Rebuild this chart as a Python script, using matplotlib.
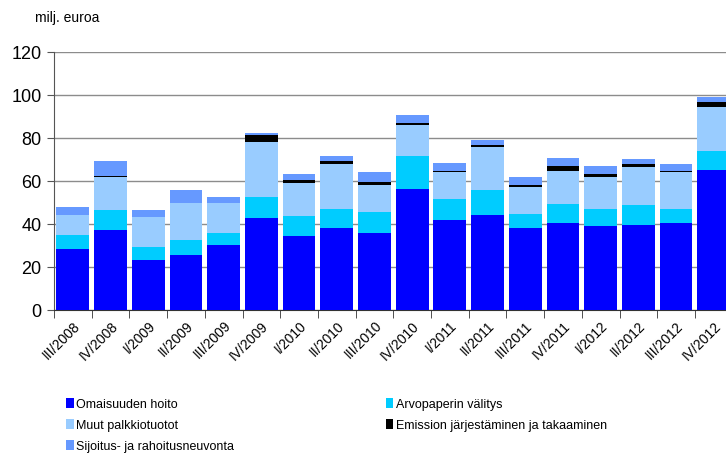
import matplotlib
matplotlib.use("Agg")
import matplotlib.pyplot as plt
import numpy as np

plt.rcParams['font.family'] = ['Liberation Sans', 'DejaVu Sans']

quarters = ["III/2008", "IV/2008", "I/2009", "II/2009", "III/2009", "IV/2009",
            "I/2010", "II/2010", "III/2010", "IV/2010", "I/2011", "II/2011",
            "III/2011", "IV/2011", "I/2012", "II/2012", "III/2012", "IV/2012"]

omaisuuden_hoito = [28.2, 37.1, 23.2, 25.3, 29.8, 42.4, 34.2, 37.9, 35.6,
                    55.9, 41.8, 43.9, 37.9, 40.1, 38.7, 39.3, 40.1, 64.7]
arvopaperin_valitys = [6.6, 9.0, 5.8, 6.8, 5.8, 10.1, 9.5, 8.8, 9.7,
                       15.4, 9.5, 11.7, 6.6, 9.0, 8.1, 9.1, 6.7, 8.8]
muut_palkkiotuotot = [9.0, 15.4, 14.0, 17.6, 14.1, 25.4, 15.0, 20.8, 12.6,
                      14.6, 12.5, 20.0, 12.6, 15.4, 14.8, 17.7, 17.0, 20.5]
emissio = [0.0, 0.8, 0.0, 0.0, 0.0, 3.1, 1.4, 1.5, 1.5,
           0.9, 0.7, 0.8, 0.7, 2.3, 1.5, 1.5, 0.7, 2.4]
sijoitus = [3.7, 6.7, 3.1, 5.9, 2.8, 1.2, 2.9, 2.3, 4.4,
            3.7, 3.7, 2.6, 3.8, 3.7, 3.7, 2.2, 3.0, 2.3]

series = [
    ("Omaisuuden hoito", omaisuuden_hoito, "#0000FF"),
    ("Arvopaperin välitys", arvopaperin_valitys, "#00CCFF"),
    ("Muut palkkiotuotot", muut_palkkiotuotot, "#99CCFF"),
    ("Emission järjestäminen ja takaaminen", emissio, "#000000"),
    ("Sijoitus- ja rahoitusneuvonta", sijoitus, "#6699FF"),
]

fig = plt.figure(figsize=(7.26, 4.6), dpi=100)
ax = fig.add_axes([54 / 726, 149.5 / 460, 678.6 / 726, 258 / 460])

x = np.arange(len(quarters))
bottom = np.zeros(len(quarters))
handles = {}
for name, vals, col in series:
    b = ax.bar(x, vals, width=0.87, bottom=bottom, color=col, label=name,
               edgecolor="none", zorder=3)
    handles[name] = b
    bottom += np.array(vals)

ax.set_xlim(-0.5, len(quarters) - 0.5)
ax.set_ylim(0, 120)
ax.set_yticks(range(0, 121, 20))
ax.yaxis.grid(True, color="#8c8c8c", linewidth=1.0, zorder=0)
ax.set_axisbelow(True)

for s in ["top", "right"]:
    ax.spines[s].set_visible(False)
ax.spines["left"].set_color("#555555")
ax.spines["bottom"].set_color("#333333")

ax.tick_params(axis="y", length=5, color="#555555", labelsize=13, pad=4)
ax.set_xticks(x)
ax.set_xticklabels(quarters, rotation=45, ha="right", rotation_mode="anchor",
                   fontsize=10)
ax.tick_params(axis="x", which="major", length=0, pad=6)
ax.set_xticks(np.arange(-0.5, len(quarters), 1), minor=True)
ax.tick_params(axis="x", which="minor", length=6, color="#333333")

fig.text(35 / 726, 1 - 18 / 460, "milj. euroa", fontsize=10, va="center")

order = ["Omaisuuden hoito", "Muut palkkiotuotot", "Sijoitus- ja rahoitusneuvonta",
         "Arvopaperin välitys", "Emission järjestäminen ja takaaminen"]
fig.legend([handles[n] for n in order], order, ncol=2, loc="upper left",
           bbox_to_anchor=(55 / 726, 1 - 388 / 460), frameon=False,
           fontsize=9, handlelength=0.6, handleheight=0.8, handletextpad=0.2,
           columnspacing=12.1, labelspacing=0.7)

fig.savefig("out.png", dpi=100)
